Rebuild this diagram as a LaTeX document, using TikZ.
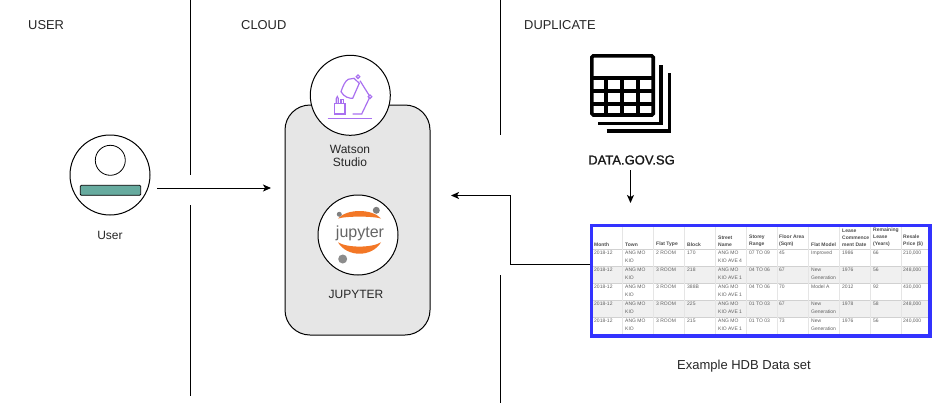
\documentclass[tikz,border=0pt]{standalone}
\usepackage{fontspec}
\setmainfont{Liberation Sans}
\newfontfamily\datafont[FakeBold=1.2]{Liberation Sans}
\usetikzlibrary{arrows.meta}
\definecolor{panelgrey}{HTML}{E6E6E6}
\definecolor{userteal}{HTML}{67AB9F}
\definecolor{lamppurple}{HTML}{A970F0}
\definecolor{jupyterorange}{HTML}{F37726}
\definecolor{frameblue}{HTML}{3333FF}
\tikzset{link/.style={line width=1pt, -{Stealth[length=8pt,width=7pt,inset=2pt]}}}
\tikzset{divider/.style={line width=1pt}}
\tikzset{badge/.style={circle, draw=black, fill=white, line width=1pt, minimum size=80pt, inner sep=0pt}}
\tikzset{lbl/.style={font=\fontsize{12}{13.5}\selectfont, text=black!85, align=center}}
\tikzset{title/.style={font=\fontsize{12.9}{14}\selectfont, text=black!85, anchor=west, inner sep=0pt}}
\tikzset{lamp/.style={lamppurple, line width=1.2pt}}
\tikzset{sheet/.style={line width=3.6pt}}
\tikzset{cellhead/.style={font=\fontsize{5}{7}\selectfont\bfseries, text=black!70, anchor=south west, inner sep=0pt, align=left}}
\tikzset{cell/.style={font=\fontsize{5}{8}\selectfont, text=black!62, anchor=north west, inner sep=0pt, align=left}}
\begin{document}
\begin{tikzpicture}[x=1pt,y=-1pt]
  \useasboundingbox (0,0) rectangle (932,405);
  % Section titles
  \node[title] (usertitle) at (28,25) {USER};
  \node[title] (cloudtitle) at (241,25) {CLOUD};
  \node[title] (duptitle) at (524,25) {DUPLICATE};
  % Dividers
  \draw[divider] (190,0) -- (190,175);
  \draw[divider] (190,205) -- (190,396);
  \draw[divider] (500.5,0) -- (500.5,135);
  \draw[divider] (500.5,275) -- (500.5,403);
  % User
  \node[badge] (user) at (110,175) {};
  \draw[line width=.8pt] (110.3,160.3) circle (15);
  \draw[line width=.8pt, fill=userteal, rounded corners=1pt] (80.3,185.3) rectangle (140.7,195.3);
  \node[lbl] (userlabel) at (110,235) {User};
  % Cloud
  \fill[panelgrey, draw=black, line width=1pt, rounded corners=25pt] (285,105) rectangle (430,335);
  \coordinate (panelwest) at (271,188);
  \coordinate (paneleast) at (451,195.5);
  \coordinate (userout) at (157,188);
  \node[badge] (watson) at (350.3,95.3) {};
  \draw[lamp] (327.7,118.5) -- (372.3,118.5);
  \draw[lamp] (334.3,103.5) rectangle (345,114);
  \draw[lamp] (336.3,103.5) -- (336.3,98.5) -- (337.3,96.5) -- (338.3,98.5) -- (338.3,103.5);
  \draw[lamp] (341,103.5) -- (341,99.5) -- (343.5,99.5) -- (343.5,103.5);
  \draw[lamp] (341,91.7) .. controls (343,86) and (345,81) .. (348.3,79.3) -- (354,78.3) -- (359.3,83.3)
    -- (352.7,98.3) .. controls (349,98.5) and (344,97) .. cycle;
  \draw[lamp] (360,80.7) -- (370,96.7) -- (361.7,114) (352.7,114) -- (362.3,114);
  \draw[lamp, fill=white] (358,76.7) circle (1.8);
  \draw[lamp, fill=white] (370,96.7) circle (1.8);
  \node[lbl] (watsonlabel) at (350,156) {Watson\\Studio};
  \node[badge] (jupyter) at (358,235) {};
  \fill[jupyterorange] (338,218.5) .. controls (347,208.5) and (372,208.5) .. (381,218.5)
    .. controls (372,216) and (347,216) .. cycle;
  \fill[jupyterorange] (338,242.3) .. controls (347,257.5) and (372,257.5) .. (381,242.3)
    .. controls (372,248) and (347,248) .. cycle;
  \fill[black!50] (339.3,214.3) circle (2.5);
  \fill[black!50] (376.3,210.3) circle (3.5);
  \fill[black!45] (342.7,259) circle (4.5);
  \node[font=\fontsize{16}{18}\selectfont, text=black!60, inner sep=0pt] (jupytertext) at (360,233) {jupyter};
  \node[lbl] (jupyterlabel) at (356,294.5) {JUPYTER};
  % Data icon
  \draw[sheet, rounded corners=1.5pt] (591.8,55.8) rectangle (653.2,115);
  \draw[line width=4pt] (592,78.3) -- (653,78.3) (592,91.3) -- (653,91.3) (592,103.7) -- (653,103.7);
  \draw[line width=4pt] (606.3,78) -- (606.3,115) (622.2,78) -- (622.2,115) (638.3,78) -- (638.3,115);
  \draw[sheet] (598,123.3) -- (660.7,123.3) -- (660.7,65);
  \draw[sheet] (606.7,130.7) -- (669.3,130.7) -- (669.3,73.3);
  \node[inner sep=0pt, text=black!90, font=\fontsize{13}{14}\datafont] (datagov) at (631.5,160) {DATA.GOV.SG};
  \coordinate (dataout) at (630.5,170);
  \coordinate (datain) at (630.5,203);
  % Table
  \fill[black!6] (592,266) rectangle (929,283);
  \fill[black!6] (592,300) rectangle (929,317);
  \foreach \rowline in {249,266,283,300,317} {
    \draw[black!18, line width=.4pt] (592,\rowline) -- (929,\rowline);
  }
  \foreach \colline in {622,653,684,715,746,777,808,839,870,901} {
    \draw[black!10, line width=.4pt] (\colline,226) -- (\colline,336);
  }
  \foreach \colx/\head in {594/Month,625/Town,656/Flat Type,687/Block,718/{Street\\Name},749/{Storey\\Range},779/{Floor Area\\(Sqm)},811/Flat Model,842/{Lease\\Commence\\ment Date},873/{Remaining\\Lease\\(Years)},903/{Resale\\Price (\$)}} {
    \node[cellhead] at (\colx,247) {\head};
  }
  \foreach \rowy/\room/\blk/\street/\rng/\area/\model/\yr/\yrs/\price in {
    251/2/170/{ANG MO\\KIO AVE 4}/07 TO 09/45/Improved/1986/66/210{,}000,
    268/3/218/{ANG MO\\KIO AVE 1}/04 TO 06/67/{New\\Generation}/1976/56/248{,}000,
    285/3/388B/{ANG MO\\KIO AVE 1}/04 TO 06/70/Model A/2012/92/430{,}000,
    302/3/225/{ANG MO\\KIO AVE 1}/01 TO 03/67/{New\\Generation}/1978/58/248{,}000,
    319/3/215/{ANG MO\\KIO AVE 1}/01 TO 03/73/{New\\Generation}/1976/56/240{,}000} {
    \node[cell] at (594,\rowy) {2018-12};
    \node[cell] at (625,\rowy) {ANG MO\\KIO};
    \node[cell] at (656,\rowy) {\room{} ROOM};
    \node[cell] at (687,\rowy) {\blk};
    \node[cell] at (718,\rowy) {\street};
    \node[cell] at (749,\rowy) {\rng};
    \node[cell] at (779,\rowy) {\area};
    \node[cell] at (811,\rowy) {\model};
    \node[cell] at (842,\rowy) {\yr};
    \node[cell] at (873,\rowy) {\yrs};
    \node[cell] at (903,\rowy) {\price};
  }
  \draw[frameblue, line width=3.3pt] (591.7,225.7) rectangle (930,336);
  \coordinate (hdbwest) at (590,264.5);
  \node[lbl, font=\fontsize{13}{14}\selectfont] (hdblabel) at (744,366) {Example HDB Data set};
  % Connectors
  \draw[link] (userout) -- (panelwest);
  \draw[link] (hdbwest) -- (510.5,264.5) -- (510.5,195.5) -- (paneleast);
  \draw[link] (dataout) -- (datain);
\end{tikzpicture}
\end{document}
